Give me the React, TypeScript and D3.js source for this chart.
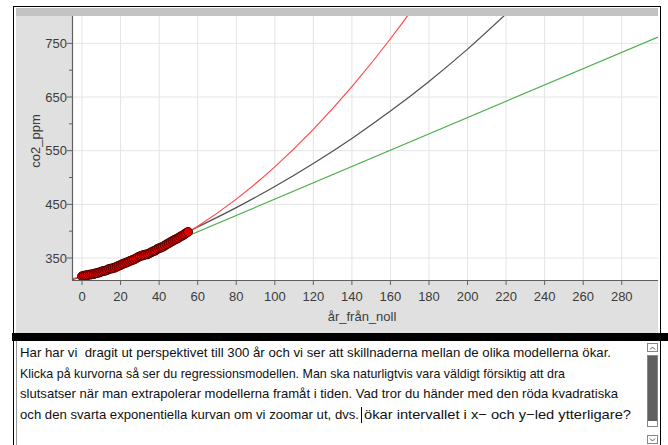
import React from 'react';
import * as d3 from 'd3';

// annual co2 means, x = years from start (år_från_noll)
const co2Ppm = [
  315.97, 316.91, 317.64, 318.45, 318.99, 319.62, 320.04, 321.38, 322.16, 323.04,
  324.62, 325.68, 326.32, 327.45, 329.68, 330.18, 331.11, 332.04, 333.83, 335.4,
  336.84, 338.75, 340.11, 341.45, 343.05, 344.65, 346.12, 347.42, 349.19, 351.57,
  353.12, 354.39, 355.61, 356.45, 357.1, 358.83, 360.82, 362.61, 363.73, 366.7,
  368.38, 369.55, 371.14, 373.28, 375.8, 377.52, 379.8, 381.9, 383.79, 385.6,
  387.43, 389.9, 391.65, 393.85, 396.52, 398.65,
];

// regression curves
const modelX = [-5, 0, 20, 40, 60, 80, 100, 120, 140, 160, 180, 200, 220];
const quadY = [311.6, 315.5, 337.0, 368.2, 409.1, 459.7, 519.9, 589.8, 669.4, 758.6, 857.5, 966, 1085];
const expY = [309.4, 316, 343.0, 372.7, 407.8, 443.9, 483.3, 526.2, 572.9, 623.8, 679.1, 739.3, 804.9];
const linX = [-5, 298.8];
const linY = [300.1, 761.9];

const xTicks = [0, 20, 40, 60, 80, 100, 120, 140, 160, 180, 200, 220, 240, 260, 280];
const yTicks = [350, 450, 550, 650, 750];
const yMinorTicks = [400, 500, 600, 700];

// note text, one entry per run: [text, start x, width, line]
const noteRuns: [string, number, number, number][] = [
  ['Har har vi  dragit ut perspektivet till 300 år och vi ser att skillnaderna mellan de olika modellerna ökar.', 20, 591, 0],
  ['Klicka på kurvorna så ser du regressionsmodellen. Man ska naturligtvis vara väldigt försiktig att dra', 20, 545, 1],
  ['slutsatser när man extrapolerar modellerna framåt i tiden. Vad tror du händer med den röda kvadratiska', 20, 598, 2],
  ['och den svarta exponentiella kurvan om vi zoomar ut, dvs.', 20, 339, 3],
  ['ökar intervallet i x− och y−led ytterligare?', 364, 267, 3],
];

const App = () => {
  const left = 72, right = 658, top = 16, bottom = 280;
  const x = d3.scaleLinear().domain([-5.2, 298.8]).range([left, right]);
  const y = d3.scaleLinear().domain([309, 801]).range([bottom, top]);

  const curve = (xs: number[], ys: number[]) =>
    d3.line<number>()
      .x((d, i) => x(xs[i]))
      .y((d) => y(d))
      .curve(d3.curveMonotoneX)(ys) || '';

  const font = 'Liberation Sans, Arial, sans-serif';
  const tickColor = '#3c3c3c';

  return (
    <svg width={668} height={445} style={{ position: 'absolute', left: 0, top: 0, background: '#fff' }}>
      <defs>
        <clipPath id="plot">
          <rect x={left} y={top} width={right - left} height={bottom - top} />
        </clipPath>
      </defs>

      {/* graph frame */}
      <rect x={13.5} y={6.5} width={647} height={327} fill="#fff" stroke="#000" />
      <rect x={16} y={8} width={642} height={8} fill="#c3c3c3" />
      <rect x={16} y={16} width={642} height={317} fill="#e0e0e0" />
      <rect x={left} y={top} width={right - left} height={bottom - top} fill="#fff" />

      {/* grid */}
      {xTicks.map((t) => (
        <line key={'gx' + t} x1={x(t)} x2={x(t)} y1={top} y2={bottom} stroke="#e4e4e4" />
      ))}
      {yTicks.map((t) => (
        <line key={'gy' + t} x1={left} x2={right} y1={y(t)} y2={y(t)} stroke="#e4e4e4" />
      ))}

      {/* curves */}
      <g clipPath="url(#plot)" fill="none">
        <path d={curve(linX, linY)} stroke="#4caf4c" strokeWidth={1.2} />
        <path d={curve(modelX, expY)} stroke="#505050" strokeWidth={1.2} />
        <path d={curve(modelX, quadY)} stroke="#ff4a4a" strokeWidth={1.2} />
        {co2Ppm.map((v, i) => (
          <circle key={i} cx={x(i)} cy={y(v)} r={4.5} fill="#e00000" stroke="#4a0000" strokeWidth={1} />
        ))}
      </g>

      {/* axes */}
      <line x1={left + 0.5} x2={left + 0.5} y1={top} y2={bottom} stroke="#606060" strokeWidth={1.2} />
      <line x1={left} x2={right} y1={bottom + 0.5} y2={bottom + 0.5} stroke="#606060" strokeWidth={1.2} />
      {yTicks.map((t) => (
        <g key={'yt' + t}>
          <line x1={left - 5} x2={left} y1={y(t)} y2={y(t)} stroke="#606060" />
          <text x={left - 5} y={y(t)} dy="0.35em" textAnchor="end" fontFamily={font} fontSize={13} fill={tickColor}>
            {t}
          </text>
        </g>
      ))}
      {yMinorTicks.map((t) => (
        <line key={'ym' + t} x1={left - 3} x2={left} y1={y(t)} y2={y(t)} stroke="#606060" />
      ))}
      {xTicks.map((t) => (
        <g key={'xt' + t}>
          <line x1={x(t)} x2={x(t)} y1={bottom} y2={bottom + 5} stroke="#606060" />
          <text x={x(t)} y={bottom + 21} textAnchor="middle" fontFamily={font} fontSize={13} fill={tickColor}>
            {t}
          </text>
        </g>
      ))}
      <text x={362} y={321} textAnchor="middle" fontFamily={font} fontSize={13} fill={tickColor}>
        år_från_noll
      </text>
      <text transform="translate(40,141) rotate(-90)" textAnchor="middle" fontFamily={font} fontSize={13} fill={tickColor}>
        co2_ppm
      </text>

      {/* notes panel */}
      <rect x={12} y={333} width={656} height={8} fill="#000" />
      <line x1={13.5} x2={13.5} y1={341} y2={445} stroke="#000" />
      <line x1={16.5} x2={16.5} y1={341} y2={445} stroke="#9a9a9a" />
      <line x1={660.5} x2={660.5} y1={341} y2={445} stroke="#000" />
      {noteRuns.map(([s, tx, w, line], i) => (
        <text
          key={i}
          x={tx}
          y={357 + line * 20.6}
          fontFamily={font}
          fontSize={13}
          fill="#111"
          textLength={w}
          lengthAdjust="spacingAndGlyphs"
          style={{ whiteSpace: 'pre' }}
        >
          {s}
        </text>
      ))}
      <line x1={361.5} x2={361.5} y1={407} y2={423} stroke="#000" />

      {/* scrollbar */}
      <rect x={647.5} y={343.5} width={10} height={8} fill="#fff" stroke="#888" />
      <polyline points="650,349.5 652.5,347 655,349.5" fill="none" stroke="#555" />
      <rect x={647.5} y={355.5} width={10} height={71} fill="#fff" stroke="#888" />
      <rect x={648} y={356} width={9} height={65} fill="#606060" />
      <rect x={647.5} y={435.5} width={10} height={8} fill="#fff" stroke="#888" />
      <polyline points="650,438.5 652.5,441 655,438.5" fill="none" stroke="#555" />
    </svg>
  );
};

export default App;
